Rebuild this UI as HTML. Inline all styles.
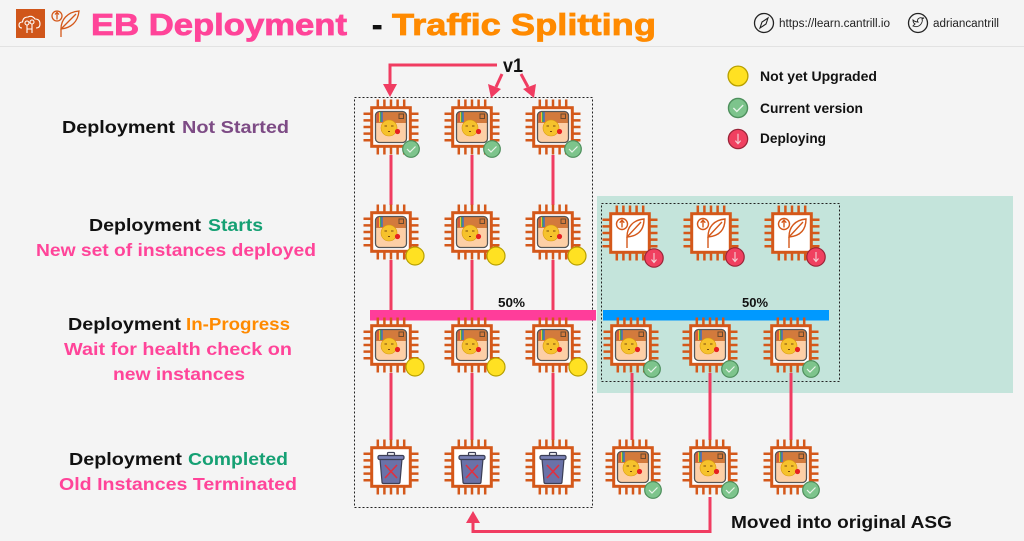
<!DOCTYPE html>
<html><head><meta charset="utf-8"><style>
html,body{margin:0;padding:0;background:#f4f4f4;}
svg{display:block;font-family:"Liberation Sans",sans-serif;font-weight:bold;}
</style></head><body>
<svg width="1024" height="541" viewBox="0 0 1024 541" xmlns="http://www.w3.org/2000/svg">
<defs>
 <g id="chipbase">
  <path d="M-13.2 -27.5v7M-6.6 -27.5v7M0 -27.5v7M6.6 -27.5v7M13.2 -27.5v7M-13.2 20.5v7M-6.6 20.5v7M0 20.5v7M6.6 20.5v7M13.2 20.5v7M-27.5 -13.2h7M-27.5 -6.6h7M-27.5 0h7M-27.5 6.6h7M-27.5 13.2h7M20.5 -13.2h7M20.5 -6.6h7M20.5 0h7M20.5 6.6h7M20.5 13.2h7" stroke="#d4581a" stroke-width="2.5" fill="none"/>
  <rect x="-19.3" y="-19.3" width="38.6" height="38.6" fill="#fff" stroke="#d4581a" stroke-width="3"/>
 </g>
 <g id="app">
  <use href="#chipbase"/>
  <rect x="-15.5" y="-15.5" width="31" height="31" rx="4" fill="#fdcfa6"/>
  <path d="M-15.5 -4V-11.5Q-15.5 -15.5 -11.5 -15.5H11.5Q15.5 -15.5 15.5 -11.5V-4Z" fill="#d37a3c"/>
  <rect x="-13.5" y="-15" width="1.3" height="10" fill="#d83a3a"/>
  <rect x="-12.2" y="-15" width="1.3" height="10" fill="#f1c232"/>
  <rect x="-10.9" y="-15" width="1.3" height="10" fill="#3aa65a"/>
  <rect x="-9.6" y="-15" width="1.3" height="10" fill="#3a6ad8"/>
  <rect x="8" y="-13" width="4.5" height="4.5" fill="none" stroke="#6a4a30" stroke-width="1"/>
  <rect x="-15.5" y="-15.5" width="31" height="31" rx="4" fill="none" stroke="#555" stroke-width="1.3"/>
  <circle cx="-2" cy="1" r="8" fill="#f6c22c" stroke="#d99b10" stroke-width="0.6"/>
  <path d="M-6.5 -1h2.5M0 -1h2.5M-3 4.5h2" stroke="#7a4a10" stroke-width="0.9"/>
  <circle cx="6.5" cy="4.5" r="2.6" fill="#e62020"/>
 </g>
 <g id="trash">
  <use href="#chipbase"/>
  <path d="M-11 -8L-9 15Q-9 16.5 -7.5 16.5H7.5Q9 16.5 9 15L11 -8Z" fill="#6a72a8" stroke="#3c3f55" stroke-width="1.2"/>
  <rect x="-13" y="-11.5" width="26" height="4" rx="1.5" fill="#7a82b6" stroke="#3c3f55" stroke-width="1.2"/>
  <rect x="-3.5" y="-14.5" width="7" height="3" rx="1" fill="none" stroke="#3c3f55" stroke-width="1.2"/>
  <path d="M-6 -2L6 11M6 -2L-6 11" stroke="#e03040" stroke-width="1.6"/>
 </g>
 <g id="leaf">
  <use href="#chipbase"/>
  <g fill="none" stroke="#d4581a" stroke-width="1.4">
   <circle cx="-8" cy="-9" r="5.5"/>
   <path d="M-8 -5.5V-12.5M-10.3 -10.3L-8 -12.8L-5.7 -10.3"/>
   <path d="M-3 15V4"/>
   <path d="M-3 4C-3 -6 3 -13 14 -14C14 -3 8 3 -3 4Z"/>
   <path d="M-3 4L11 -11"/>
  </g>
 </g>
 <g id="gb"><circle r="8.3" fill="#7dc48c" stroke="#4d8f5c" stroke-width="1.2"/><path d="M-4 0L-1 3L4.5 -2.5" fill="none" stroke="#e8f4ea" stroke-width="1.2"/></g>
 <g id="yb"><circle r="9" fill="#ffe122" stroke="#b8a000" stroke-width="1.2"/></g>
 <g id="rb"><circle r="9.2" fill="#f04060" stroke="#9a2438" stroke-width="1.2"/><path d="M0 -5V4M-2.5 1.5L0 4.5L2.5 1.5" fill="none" stroke="#f4d0d6" stroke-width="1.1"/></g>
</defs>

<rect width="1024" height="541" fill="#f4f4f4"/>
<line x1="0" y1="46.5" x2="1024" y2="46.5" stroke="#e2e2e2" stroke-width="1"/>

<!-- header logos -->
<rect x="16" y="9" width="29" height="29" fill="#d0561a"/>
<g fill="none" stroke="#fff" stroke-width="1.1">
 <path d="M22 28Q19 28 19 25Q19 22 22.5 22Q23 17 28 17Q32 15 35 19Q40 19 40 24Q40 28 36 28"/>
 <circle cx="27" cy="23" r="2"/><circle cx="32" cy="22" r="2"/><path d="M27 25V33M32 24V33M27 29H32"/>
</g>
<g fill="none" stroke="#d4581a" stroke-width="1.3">
 <circle cx="57" cy="16" r="5"/><path d="M57 19.5V12.5M55 14.5L57 12.3L59 14.5"/>
 <path d="M61 37V29"/><path d="M61 29C61 20 67 12 79 11C78 22 71 28 61 29Z"/><path d="M61 29L76 14"/>
</g>

<text x="91" y="35" font-size="31" fill="#ff4499" stroke="#ff4499" stroke-width="0.8" textLength="256" lengthAdjust="spacingAndGlyphs">EB Deployment</text>
<text x="372" y="35" font-size="31" fill="#111" stroke="#111" stroke-width="0.8">-</text>
<text x="392" y="35" font-size="31" fill="#ff8a00" stroke="#ff8a00" stroke-width="0.8" textLength="264" lengthAdjust="spacingAndGlyphs">Traffic Splitting</text>

<circle cx="764" cy="23" r="9.5" fill="none" stroke="#222" stroke-width="1.3"/>
<path d="M768 18L762 22L760 28L766 24Z" fill="none" stroke="#222" stroke-width="1.1"/>
<text x="779" y="27" font-size="11.5" fill="#222" textLength="111" lengthAdjust="spacingAndGlyphs" style="font-weight:normal">https://learn.cantrill.io</text>
<circle cx="918" cy="23" r="9.5" fill="none" stroke="#222" stroke-width="1.3"/>
<path d="M913 26Q918 28 921 24Q923 21 922 19L924 18L922 18Q920 17 918 19Q917 21 918 22Q915 22 913 20Q913 23 915 24Z" fill="none" stroke="#222" stroke-width="0.9"/>
<text x="933" y="27" font-size="11.5" fill="#222" textLength="66" lengthAdjust="spacingAndGlyphs" style="font-weight:normal">adriancantrill</text>

<!-- left labels -->
<g font-size="17.5">
 <text x="62" y="133" fill="#111" textLength="113" lengthAdjust="spacingAndGlyphs">Deployment</text>
 <text x="182" y="133" fill="#7d4b85" textLength="107" lengthAdjust="spacingAndGlyphs">Not Started</text>
 <text x="89" y="231" fill="#111" textLength="112" lengthAdjust="spacingAndGlyphs">Deployment</text>
 <text x="208" y="231" fill="#15a073" textLength="55" lengthAdjust="spacingAndGlyphs">Starts</text>
 <text x="36" y="256" fill="#ff4499" textLength="280" lengthAdjust="spacingAndGlyphs">New set of instances deployed</text>
 <text x="68" y="330" fill="#111" textLength="113" lengthAdjust="spacingAndGlyphs">Deployment</text>
 <text x="186" y="330" fill="#ff8a00" textLength="104" lengthAdjust="spacingAndGlyphs">In-Progress</text>
 <text x="64" y="355" fill="#ff4499" textLength="228" lengthAdjust="spacingAndGlyphs">Wait for health check on</text>
 <text x="113" y="380" fill="#ff4499" textLength="132" lengthAdjust="spacingAndGlyphs">new instances</text>
 <text x="69" y="465" fill="#111" textLength="113" lengthAdjust="spacingAndGlyphs">Deployment</text>
 <text x="188" y="465" fill="#15a073" textLength="100" lengthAdjust="spacingAndGlyphs">Completed</text>
 <text x="59" y="490" fill="#ff4499" textLength="238" lengthAdjust="spacingAndGlyphs">Old Instances Terminated</text>
 <text x="848" y="244" fill="#111" textLength="145" lengthAdjust="spacingAndGlyphs">Created with v2</text>
 <text x="854" y="356" fill="#111" textLength="138" lengthAdjust="spacingAndGlyphs">New TEMP ASG</text>
 <text x="731" y="528" fill="#111" textLength="221" lengthAdjust="spacingAndGlyphs">Moved into original ASG</text>
</g>

<!-- legend -->
<g transform="translate(738 76) scale(1.1)"><use href="#yb"/></g>
<g transform="translate(738 108) scale(1.15)"><use href="#gb"/></g>
<g transform="translate(738 139) scale(1.05)"><use href="#rb"/></g>
<g font-size="14" fill="#111">
 <text x="760" y="81" textLength="117" lengthAdjust="spacingAndGlyphs">Not yet Upgraded</text>
 <text x="760" y="113" textLength="103" lengthAdjust="spacingAndGlyphs">Current version</text>
 <text x="760" y="143" textLength="66" lengthAdjust="spacingAndGlyphs">Deploying</text>
</g>

<!-- green area -->
<rect x="597" y="196" width="416" height="197" fill="#c4e4db"/>
<rect x="601.5" y="203.5" width="238" height="178" fill="none" stroke="#222" stroke-width="1" stroke-dasharray="2 2"/>
<rect x="354.5" y="97.5" width="238" height="410" fill="none" stroke="#222" stroke-width="1" stroke-dasharray="2 2"/>

<!-- connectors -->
<g stroke="#f03c61" stroke-width="3" fill="none">
 <path d="M391 155V205M472 155V205M553 155V205"/>
 <path d="M391 260V318M472 260V318M553 260V318"/>
 <path d="M391 373V440M472 373V440M553 373V440"/>
 <path d="M632 373V440M710 373V440M791 373V440"/>
 <path d="M497 65H390V85"/>
 <path d="M502 74L496 87"/>
 <path d="M521 74L528 87"/>
 <path d="M710 497V531.5H473V521"/>
</g>
<g fill="#f03c61">
 <path d="M383 84H397L390 97Z"/>
 <path d="M488 84L501 89L491 98Z"/>
 <path d="M523 89L536 84L534 98Z"/>
 <path d="M466 523H480L473 511Z"/>
</g>
<text x="503" y="72" font-size="19" fill="#111" textLength="20" lengthAdjust="spacingAndGlyphs">v1</text>

<!-- bars -->
<rect x="370" y="310" width="226" height="10.5" fill="#ff3d9a"/>
<rect x="603" y="310" width="226" height="10.5" fill="#0099ff"/>
<text x="498" y="307" font-size="13" fill="#111" textLength="27" lengthAdjust="spacingAndGlyphs">50%</text>
<text x="742" y="307" font-size="13" fill="#111" textLength="26" lengthAdjust="spacingAndGlyphs">50%</text>

<!-- left group chips -->
<use href="#app" x="391" y="127"/><use href="#app" x="472" y="127"/><use href="#app" x="553" y="127"/>
<use href="#gb" x="411" y="149"/><use href="#gb" x="492" y="149"/><use href="#gb" x="573" y="149"/>

<use href="#app" x="391" y="232"/><use href="#app" x="472" y="232"/><use href="#app" x="553" y="232"/>
<use href="#yb" x="415" y="256"/><use href="#yb" x="496" y="256"/><use href="#yb" x="577" y="256"/>

<use href="#app" x="391" y="345"/><use href="#app" x="472" y="345"/><use href="#app" x="553" y="345"/>
<use href="#yb" x="415" y="367"/><use href="#yb" x="496" y="367"/><use href="#yb" x="578" y="367"/>

<use href="#trash" x="391" y="467"/><use href="#trash" x="472" y="467"/><use href="#trash" x="553" y="467"/>

<!-- right group chips -->
<use href="#leaf" x="630" y="233"/><use href="#leaf" x="711" y="233"/><use href="#leaf" x="792" y="233"/>
<use href="#rb" x="654" y="258"/><use href="#rb" x="735" y="257"/><use href="#rb" x="816" y="257"/>

<use href="#app" x="631" y="345"/><use href="#app" x="710" y="345"/><use href="#app" x="791" y="345"/>
<use href="#gb" x="652" y="369"/><use href="#gb" x="730" y="369"/><use href="#gb" x="811" y="369"/>

<use href="#app" x="633" y="467"/><use href="#app" x="710" y="467"/><use href="#app" x="791" y="467"/>
<use href="#gb" x="653" y="490"/><use href="#gb" x="730" y="490"/><use href="#gb" x="811" y="490"/>
</svg>
</body></html>
